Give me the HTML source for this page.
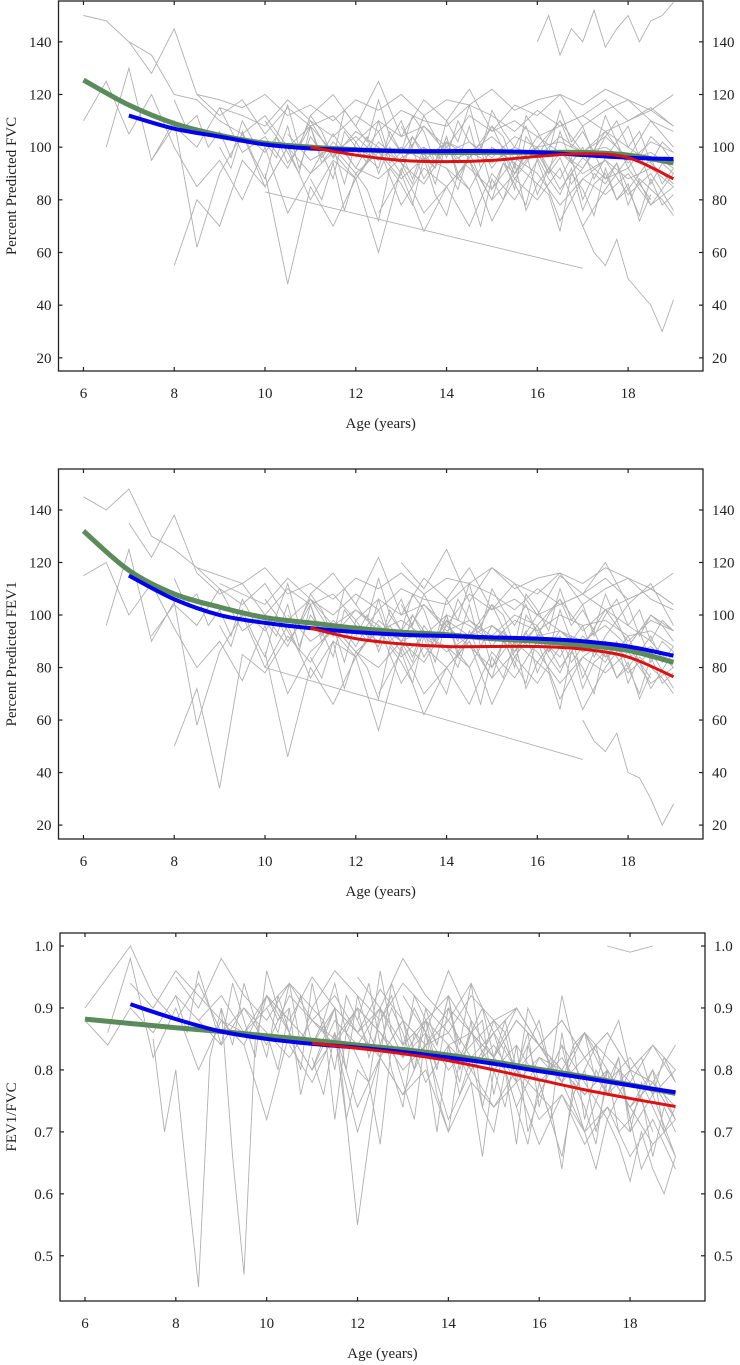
<!DOCTYPE html>
<html><head><meta charset="utf-8">
<style>
body{margin:0;background:#fff;}
svg{display:block;font-family:"Liberation Serif",serif;}
</style></head>
<body>
<svg id="c" width="740" height="1365" xmlns="http://www.w3.org/2000/svg"></svg>
<script>
const ages=[6,7,8,9,10,11,12,13,14,15,16,17,18,19];
const xTicks=[6,8,10,12,14,16,18];
// Panel 1: FVC
const fvcGreen=[125.5,116,109,104.5,101.5,100,99,98.5,98,98,98,98,97,94];
const fvcBlue=[null,112,107,104,101,99.5,99,98.5,98.5,98.5,98,97,96,95.5];
const fvcRed=[null,null,null,null,null,100,97,95,94.5,95,96.5,97.5,96,88];
const fvcTicks=[20,40,60,80,100,120,140];
const fvcSubjects=[
{start:6,step:0.5,vals:[150,148,140,135,120,118,110,105,112,100,108,98,104,96,100,95,102,98,94,100,96,104,98,100,95,98,92]},
{start:6.5,step:0.5,vals:[100,130,95,110,62,90,105,85,100,80,95,88,100,78,92,85,95,80,90,100,84,96,88,92,80]},
{start:7,step:0.5,vals:[140,128,145,120,112,118,105,115,108,112,102,110,104,108,100,112,106,110,104,108,112,106,110,115,108]},
{start:8,step:0.5,vals:[55,80,70,95,85,100,90,105,92,88,96,100,94,98,104,96,100,102,98,104,96,110,100]},
{start:9,step:0.5,vals:[115,112,108,118,110,104,112,106,114,110,108,116,112,106,114,108,112,118,110,114,108]},
{start:10,step:0.5,vals:[90,48,85,70,88,60,92,75,85,70,90,80,95,72,88,82,90,78,85,70,80,60,82,62,58,55,50]},
{start:10,step:7,vals:[83,54]},
{start:16,step:0.25,vals:[140,150,135,145,140,152,138,145,150,140,148,150,155]},
{start:12,step:0.5,vals:[100,95,110,88,102,96,108,90,104,98,92,106,100,94,86]},
{start:17,step:0.25,vals:[70,60,55,65,50,45,40,30,42]},
{start:8.5,step:0.5,vals:[120,118,115,120,112,116,110,118,114,120,112,118,116,122,114,118,120,116,122,118,114,120,116,118,112,116]},
{start:10.5,step:0.5,vals:[105,95,100,90,98,88,96,92,84,100,94,86,98,90,95,88,92,85,94,90,96,88,92,86,90,84]},
{start:6,step:0.5,vals:[110,125,105,120,100,85,95,80,100,75,90,98,88,102,94,86,100,92,84,96,90,78,88,95,82,90,76]},
{start:11,step:0.5,vals:[112,120,108,125,104,118,110,122,106,116,112,120,108,114,118,110,106,112,104]},
{start:12.5,step:0.5,vals:[75,90,68,85,95,72,88,80,92,70,84,96,78,90,82,74,86,70]},
{start:7.5,step:0.5,vals:[95,108,100,115,98,104,92,110,96,106,100,94,108,98,102,96,104,100,110,98,106,94,102,98,104,96]},
{start:10,step:0.25,vals:[102,96,108,92,104,98,88,106,100,94,110,96,90,104,98,86,102,94,108,92,100,96,84,104,98,90,106,94,100,88,96,102,92,98,86,94,90]},
{start:10,step:0.25,vals:[110,104,116,100,112,106,96,114,108,102,118,104,98,112,106,94,110,102,116,100,108,104,92,112,106,98,114,102,108,96,104,110,100,106,94,102,98]},
{start:11,step:0.25,vals:[88,80,94,76,90,84,72,92,86,78,96,82,74,90,84,70,88,80,94,76,86,82,68,90,84,74,92,80,86,72,82]},
{start:12,step:0.25,vals:[96,104,90,100,94,86,98,92,104,88,96,100,84,94,90,98,82,92,88,96,80,90,86,94,78,88,84,80,74]},
{start:9,step:0.25,vals:[100,92,106,96,88,104,98,90,108,94,100,86,102,96,92,106,98,88,100,94,104,90,96,100,92,98,88,94,100,90,96,86,92,98,88,94,84,90,96,86,92]},
{start:13,step:0.25,vals:[108,100,112,104,96,110,102,98,114,106,100,108,96,104,110,100,106,98,112,102,108,96,104,100,94]},
{start:14,step:0.25,vals:[92,84,98,88,80,94,86,78,96,88,82,92,76,86,90,80,84,74,88,78,82]},
{start:8,step:0.25,vals:[118,108,112,100,106,96,110,102,98,104,94,100,108,96,102,98,92,100,106,94,98,104,96,92]}
];
// Panel 2: FEV1
const fevGreen=[132,117,108,103,99,97,95,93.5,92.5,91,90,88.5,86.5,82];
const fevBlue=[null,115,106,100,97,95,93.5,92.5,92,91.5,91,90,88,84.5];
const fevRed=[null,null,null,null,null,95,91,89,88,88,88,87,84,76.5];
const fevTicks=[20,40,60,80,100,120,140];
const fevSubjects=[
{start:6,step:0.5,vals:[145,140,148,130,125,118,110,104,112,98,106,96,102,94,98,92,100,96,90,98,94,100,96,98,92,94,88]},
{start:6.5,step:0.5,vals:[96,125,90,105,58,86,100,80,96,76,90,84,96,74,88,80,90,76,86,96,80,92,84,88,76]},
{start:7,step:0.5,vals:[135,122,138,116,108,112,100,110,104,108,98,106,100,104,96,108,102,106,100,104,108,102,106,110,104]},
{start:8,step:0.5,vals:[50,72,34,85,78,92,82,96,86,80,90,94,86,92,96,88,92,94,90,96,88,100,94]},
{start:9,step:0.5,vals:[112,108,104,114,106,100,108,102,110,106,104,112,108,102,110,104,108,114,106,110,104]},
{start:10,step:0.5,vals:[86,46,80,66,84,56,88,70,80,66,86,76,90,68,84,78,86,74,80,66,76,56,78,58,54,50,45]},
{start:10,step:7,vals:[80,45]},
{start:12,step:0.5,vals:[96,90,106,84,98,92,104,86,100,94,88,102,96,90,80]},
{start:17,step:0.25,vals:[60,52,48,55,40,38,30,20,28]},
{start:8.5,step:0.5,vals:[118,115,112,118,108,112,106,114,110,116,108,114,112,118,110,114,116,112,118,114,110,116,112,114,108,110]},
{start:10.5,step:0.5,vals:[100,90,96,86,94,84,92,88,80,96,90,82,94,86,90,84,88,80,90,86,92,84,88,82,86,78]},
{start:6,step:0.5,vals:[115,120,100,112,95,80,90,75,96,70,86,94,84,98,90,82,96,88,80,92,86,74,84,90,78,86,72]},
{start:11,step:0.5,vals:[108,116,104,122,100,114,106,118,102,112,108,116,104,110,114,106,102,108,100]},
{start:12.5,step:0.5,vals:[70,86,62,80,90,66,84,74,88,64,80,92,72,86,78,68,82,64]},
{start:7.5,step:0.5,vals:[92,104,96,110,94,100,88,106,92,102,96,90,104,94,98,92,100,96,106,94,102,90,98,94,100,92]},
{start:13,step:0.5,vals:[120,110,125,105,118,112,100,115,108,120,104,112,96,104,90,98,88,84,80]},
{start:10,step:0.25,vals:[98,92,104,88,100,94,84,102,96,90,106,92,86,100,94,82,98,90,104,88,96,92,80,100,94,86,102,90,96,84,92,98,88,94,82,90,86]},
{start:10,step:0.25,vals:[106,100,112,96,108,102,92,110,104,98,114,100,94,108,102,90,106,98,112,96,104,100,88,108,102,94,110,98,104,92,100,106,96,102,90,98,94]},
{start:11,step:0.25,vals:[84,76,90,72,86,80,68,88,82,74,92,78,70,86,80,66,84,76,90,72,82,78,64,86,80,70,88,76,82,68,78]},
{start:12,step:0.25,vals:[92,100,86,96,90,82,94,88,100,84,92,96,80,90,86,94,78,88,84,92,76,86,82,90,74,84,80,76,70]},
{start:9,step:0.25,vals:[96,88,102,92,84,100,94,86,104,90,96,82,98,92,88,102,94,84,96,90,100,86,92,96,88,94,84,90,96,86,92,82,88,94,84,90,80,86,92,82,88]},
{start:13,step:0.25,vals:[104,96,108,100,92,106,98,94,110,102,96,104,92,100,106,96,102,94,108,98,104,92,100,96,90]},
{start:14,step:0.25,vals:[88,80,94,84,76,90,82,74,92,84,78,88,72,82,86,76,80,70,84,74,78]},
{start:8,step:0.25,vals:[114,104,108,96,102,92,106,98,94,100,90,96,104,92,98,94,88,96,102,90,94,100,92,88]}
];
// Panel 3: FEV1/FVC
const ratGreen=[0.882,0.875,0.868,0.862,0.855,0.848,0.84,0.833,0.824,0.813,0.801,0.789,0.776,0.762];
const ratBlue=[null,0.906,0.882,0.862,0.85,0.842,0.836,0.829,0.82,0.81,0.798,0.787,0.775,0.764];
const ratRed=[null,null,null,null,null,0.843,0.835,0.826,0.815,0.8,0.784,0.768,0.754,0.741];
const ratTicks=[0.5,0.6,0.7,0.8,0.9,1.0];
const ratTickLabels=["0.5","0.6","0.7","0.8","0.9","1.0"];
const ratSubjects=[
{start:6,step:0.5,vals:[0.9,0.95,1.0,0.92,0.88,0.94,0.86,0.9,0.84,0.92,0.88,0.85,0.9,0.86,0.82,0.88,0.84,0.86,0.8,0.84,0.78,0.82,0.76,0.8,0.74,0.78,0.72]},
{start:6.5,step:0.5,vals:[0.86,0.98,0.82,0.9,0.8,0.88,0.84,0.92,0.86,0.8,0.88,0.84,0.9,0.82,0.86,0.8,0.84,0.88,0.8,0.76,0.84,0.78,0.72,0.8,0.7]},
{start:7.5,step:0.25,vals:[0.85,0.7,0.8,0.62,0.45,0.82,0.9,0.66,0.47,0.85,0.92,0.88,0.9]},
{start:8,step:0.5,vals:[0.95,0.9,0.98,0.92,0.88,0.94,0.9,0.96,0.92,0.88,0.94,0.9,0.86,0.92,0.88,0.9,0.84,0.88,0.82,0.86,0.8,0.84,0.78]},
{start:9,step:0.5,vals:[0.88,0.84,0.72,0.86,0.8,0.9,0.55,0.82,0.88,0.78,0.84,0.8,0.86,0.74,0.82,0.78,0.7,0.8,0.74,0.68,0.72]},
{start:10,step:0.5,vals:[0.92,0.88,0.95,0.9,0.86,0.93,0.88,0.84,0.9,0.86,0.82,0.88,0.84,0.8,0.86,0.78,0.82,0.76,0.8,0.74,0.7,0.76,0.68,0.65,0.6,0.62,0.58]},
{start:11,step:0.5,vals:[0.8,0.85,0.7,0.82,0.76,0.84,0.72,0.8,0.74,0.78,0.68,0.76,0.7,0.74,0.66,0.72,0.64,0.7,0.62,0.66,0.6,0.62,0.56,0.58,0.57]},
{start:12,step:0.5,vals:[0.95,0.9,0.98,0.92,0.88,0.94,0.86,0.9,0.84,0.88,0.82,0.86,0.8,0.78,0.84,0.76,0.8,0.72,0.76,0.7,0.72,0.68,0.66,0.64,0.62,0.6]},
{start:17.5,step:0.5,vals:[1.0,0.99,1.0]},
{start:8.5,step:0.5,vals:[0.88,0.92,0.86,0.9,0.94,0.88,0.92,0.86,0.9,0.84,0.88,0.92,0.86,0.82,0.88,0.84,0.8,0.86,0.82,0.78,0.84,0.8,0.76,0.82,0.78,0.74]},
{start:10.5,step:0.5,vals:[0.84,0.78,0.86,0.74,0.82,0.76,0.8,0.7,0.78,0.74,0.8,0.72,0.76,0.68,0.74,0.7,0.76,0.66,0.7,0.64,0.68,0.62,0.66,0.6,0.64,0.62]},
{start:6,step:0.5,vals:[0.88,0.84,0.9,0.86,0.92,0.88,0.84,0.9,0.86,0.82,0.88,0.84,0.9,0.86,0.8,0.84,0.88,0.82,0.86,0.8,0.84,0.78,0.82,0.76,0.8,0.78,0.74]},
{start:13,step:0.5,vals:[0.92,0.86,0.96,0.88,0.82,0.9,0.84,0.78,0.86,0.8,0.74,0.8,0.72,0.76,0.7,0.74,0.68,0.66,0.62,0.6]},
{start:7,step:0.5,vals:[0.94,0.9,0.96,0.92,0.88,0.86,0.92,0.88,0.84,0.9,0.86,0.82,0.88,0.84,0.86,0.8,0.84,0.78,0.82,0.8,0.76,0.8,0.74,0.78,0.72,0.74]},
{start:10,step:0.25,vals:[0.86,0.8,0.9,0.76,0.84,0.88,0.72,0.86,0.82,0.78,0.9,0.8,0.74,0.86,0.82,0.7,0.84,0.78,0.88,0.74,0.82,0.8,0.68,0.84,0.78,0.72,0.86,0.76,0.8,0.7,0.78,0.82,0.72,0.76,0.66,0.74,0.7]},
{start:10,step:0.25,vals:[0.9,0.86,0.94,0.84,0.9,0.88,0.8,0.92,0.88,0.84,0.96,0.86,0.82,0.92,0.88,0.8,0.9,0.84,0.94,0.82,0.88,0.86,0.78,0.9,0.86,0.8,0.92,0.84,0.86,0.78,0.84,0.88,0.8,0.82,0.76,0.82,0.78]},
{start:11,step:0.25,vals:[0.82,0.76,0.86,0.72,0.8,0.78,0.68,0.84,0.78,0.72,0.86,0.76,0.7,0.82,0.78,0.66,0.8,0.74,0.84,0.7,0.76,0.74,0.64,0.78,0.74,0.68,0.8,0.7,0.72,0.64,0.68]},
{start:9,step:0.25,vals:[0.9,0.84,0.94,0.88,0.82,0.92,0.86,0.8,0.94,0.86,0.9,0.8,0.92,0.86,0.82,0.94,0.88,0.8,0.9,0.84,0.92,0.82,0.86,0.9,0.82,0.88,0.8,0.84,0.88,0.8,0.84,0.76,0.8,0.84,0.76,0.8,0.72,0.76,0.8,0.7,0.74]},
{start:12,step:0.25,vals:[0.88,0.94,0.84,0.9,0.86,0.8,0.88,0.84,0.92,0.8,0.86,0.88,0.76,0.84,0.8,0.86,0.74,0.82,0.78,0.84,0.72,0.8,0.76,0.82,0.7,0.78,0.74,0.7,0.66]},
{start:14,step:0.25,vals:[0.84,0.76,0.82,0.74,0.7,0.8,0.74,0.68,0.78,0.72,0.66,0.76,0.7,0.64,0.72,0.68,0.62,0.7,0.64,0.6,0.66]},
{start:8,step:0.25,vals:[0.92,0.86,0.96,0.9,0.84,0.94,0.88,0.82,0.96,0.9,0.86,0.92,0.84,0.88,0.94,0.86,0.9,0.82,0.88,0.92,0.84,0.9,0.86,0.8]}
];

const NS="http://www.w3.org/2000/svg";
const svg=document.getElementById('c');
function el(tag,attrs,parent){const e=document.createElementNS(NS,tag);for(const k in attrs)e.setAttribute(k,attrs[k]);(parent||svg).appendChild(e);return e;}

function panel(cfg){
  const g=el('g',{});
  
  
  const {L,R,T,B,y0,y1}=cfg;
  const xs=a=>L+(a-5.45)*(R-L)/(19.65-5.45);
  const ys=v=>B-(v-y0)*(B-T)/(y1-y0);
  const sg=el('g',{fill:'none',stroke:'#b0b0b0','stroke-width':0.9},g);
  
  
  cfg.subjects.forEach(s=>{
    const pts=[];
    s.vals.forEach((v,i)=>{const a=s.start+i*s.step;if(a<=19.01)pts.push(xs(a).toFixed(1)+','+ys(Math.max(y0,Math.min(y1,v))).toFixed(1));});
    const p=el('polyline',{points:pts.join(' ')},sg);
    
    
  });
  [[cfg.green,'#5b8a5b',5,'green-fit'],[cfg.blue,'#0000ee',4,'blue-fit'],[cfg.red,'#dd1111',3,'red-fit']].forEach(([arr,col,w,nm])=>{
    const pts=[];
    for(let i=0;i<ages.length;i++)if(arr[i]!=null)pts.push([xs(ages[i]),ys(arr[i])]);
    let d='M'+pts[0][0]+','+pts[0][1];
    for(let i=0;i<pts.length-1;i++){
      const p0=pts[Math.max(0,i-1)],p1=pts[i],p2=pts[i+1],p3=pts[Math.min(pts.length-1,i+2)];
      d+=` C${p1[0]+(p2[0]-p0[0])/6},${p1[1]+(p2[1]-p0[1])/6} ${p2[0]-(p3[0]-p1[0])/6},${p2[1]-(p3[1]-p1[1])/6} ${p2[0]},${p2[1]}`;
    }
    const p=el('path',{d,fill:'none',stroke:col,'stroke-width':w},g);
    
    
  });
  const fr=el('rect',{x:L,y:T,width:R-L,height:B-T,fill:'none',stroke:'#222','stroke-width':1.3},g);
  
  
  xTicks.forEach(t=>{
    const x=xs(t);
    el('line',{x1:x,x2:x,y1:B,y2:B-4,stroke:'#222','stroke-width':1.2},g);
    el('line',{x1:x,x2:x,y1:T,y2:T+4,stroke:'#222','stroke-width':1.2},g);
    const tx=el('text',{x:x,y:B+27,'text-anchor':'middle','font-size':15,fill:'#222'},g);
    tx.textContent=t;
    
    
  });
  cfg.ticks.forEach((t,i)=>{
    const y=ys(t);const lab=cfg.labels?cfg.labels[i]:String(t);
    el('line',{x1:L,x2:L+4,y1:y,y2:y,stroke:'#222','stroke-width':1.2},g);
    el('line',{x1:R,x2:R-4,y1:y,y2:y,stroke:'#222','stroke-width':1.2},g);
    const a=el('text',{x:L-7,y:y+5,'text-anchor':'end','font-size':15,fill:'#222'},g);
    a.textContent=lab;
    
    
    const b=el('text',{x:R+9,y:y+5,'text-anchor':'start','font-size':15,fill:'#222'},g);
    b.textContent=lab;
    
    
  });
  const xl=el('text',{x:(L+R)/2,y:B+57,'text-anchor':'middle','font-size':15,fill:'#222'},g);
  xl.textContent='Age (years)';
  
  
  const yl=el('text',{x:0,y:0,'text-anchor':'middle','font-size':15,fill:'#222',transform:`translate(16,${(T+B)/2}) rotate(-90)`},g);
  yl.textContent=cfg.ytitle;
  
  
}
panel({name:'fvc-panel',L:58.5,R:703,T:1,B:371,y0:15,y1:155.5,ticks:fvcTicks,subjects:fvcSubjects,green:fvcGreen,blue:fvcBlue,red:fvcRed,ytitle:'Percent Predicted FVC'});
panel({name:'fev1-panel',L:58.5,R:703,T:469,B:839,y0:14.7,y1:155.6,ticks:fevTicks,subjects:fevSubjects,green:fevGreen,blue:fevBlue,red:fevRed,ytitle:'Percent Predicted FEV1'});
panel({name:'ratio-panel',L:60,R:705,T:933,B:1301,y0:0.427,y1:1.021,ticks:ratTicks,labels:ratTickLabels,subjects:ratSubjects,green:ratGreen,blue:ratBlue,red:ratRed,ytitle:'FEV1/FVC'});
</script>
</body></html>
